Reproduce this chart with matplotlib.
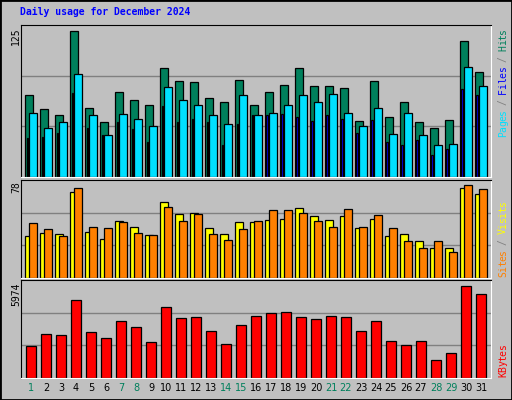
import matplotlib.pyplot as plt
from matplotlib.patches import Rectangle

days = list(range(1, 32))
weekend = [1, 7, 8, 14, 15, 21, 22, 28, 29]

hits = [70, 58, 53, 125, 59, 47, 73, 66, 62, 93, 82, 81, 68, 64, 83, 62,
        73, 79, 93, 78, 78, 76, 48, 82, 51, 64, 47, 42, 49, 116, 90]
pages = [55, 42, 47, 88, 53, 36, 54, 50, 44, 77, 66, 62, 53, 45, 70, 53,
         55, 62, 70, 64, 71, 55, 44, 59, 37, 55, 36, 27, 28, 94, 78]
files = [33, 34, 38, 72, 42, 36, 47, 41, 30, 61, 47, 50, 47, 27, 45, 53,
         53, 54, 51, 48, 53, 50, 38, 49, 30, 27, 32, 19, 24, 75, 70]
visits = [35, 38, 37, 72, 39, 33, 48, 43, 36, 64, 54, 55, 42, 37, 47, 47,
          49, 50, 59, 52, 49, 52, 42, 50, 35, 37, 31, 25, 25, 76, 71]
sites = [46, 41, 35, 76, 43, 42, 47, 38, 36, 60, 48, 54, 37, 32, 41, 48,
         57, 57, 55, 48, 43, 58, 43, 53, 42, 31, 25, 31, 22, 78, 75]
kbytes = [2101, 2888, 2823, 5055, 3020, 2626, 3742, 3348, 2363, 4661, 3939,
          4004, 3085, 2232, 3479, 4070, 4267, 4332, 4004, 3873, 4070, 4004,
          3085, 3742, 2429, 2166, 2429, 1182, 1641, 5974, 5448]

W, H = 512, 400
bg = "#C0C0C0"
fig = plt.figure(figsize=(W / 100, H / 100), dpi=100, facecolor=bg)
fig.patches.append(Rectangle((0, 0), 1, 1, transform=fig.transFigure,
                             fill=False, edgecolor="black", linewidth=2))


def px_axes(left, top, right, bottom):
    return fig.add_axes([left / W, 1 - bottom / H, (right - left) / W, (bottom - top) / H])


def style(ax, ymax):
    ax.set_facecolor(bg)
    ax.set_xlim(1 - 0.67, 31 + 0.67)
    ax.set_ylim(0, ymax)
    for f in (1 / 3, 2 / 3):
        ax.axhline(ymax * f, color="#808080", linewidth=1, zorder=0)
    ax.set_xticks([])
    ax.set_yticks([])
    for s in ("left", "top"):
        ax.spines[s].set_color("black")
    for s in ("right", "bottom"):
        ax.spines[s].set_color("white")


mono = "DejaVu Sans Mono"
bk = dict(edgecolor="black", linewidth=0.9, align="edge")

# hits / pages / files
ax1 = px_axes(21, 25, 491, 177)
style(ax1, 125 * 458 / 440)
ax1.bar([d - 0.38 for d in days], hits, 0.5, color="#00805C", **bk)
ax1.bar([d - 0.3 for d in days], files, 0.13, color="#0000FF", **bk)
ax1.bar([d - 0.12 for d in days], pages, 0.5, color="#00E0FF", **bk)

# visits / sites
ax2 = px_axes(21, 180, 491, 278)
style(ax2, 78 * 292 / 276)
ax2.bar([d - 0.38 for d in days], visits, 0.5, color="#FFFF00", **bk)
ax2.bar([d - 0.12 for d in days], sites, 0.5, color="#FF8000", **bk)

# kbytes
ax3 = px_axes(21, 280, 491, 378)
style(ax3, 5974 * 292 / 273)
ax3.bar([d - 0.33 for d in days], kbytes, 0.66, color="#FF0000", **bk)

fig.text(20 / W, 1 - 15 / H, "Daily usage for December 2024", color="#0000FF",
         fontsize=7, fontweight="bold", family=mono, va="baseline")

for lab, top in (("125", 27), ("78", 181), ("5974", 282)):
    fig.text(16 / W, 1 - top / H, lab, rotation=90, fontsize=7, family=mono,
             ha="center", va="top")

for d in days:
    x = ax3.transData.transform((d, 0))[0] / W
    fig.text(x, 1 - 388 / H, str(d), fontsize=7, ha="center", va="center",
             color="#00805C" if d in weekend else "black")


def side_label(parts, bottom_px, pitch=5.4):
    y = bottom_px
    for txt, col in parts:
        for ch in txt:
            if ch != " ":
                fig.text(503 / W, 1 - (y - pitch / 2) / H, ch, rotation=90,
                         color=col, fontsize=7, family=mono, ha="center",
                         va="center")
            y -= pitch


side_label([("Pages", "#00E0FF"), (" / ", "#808080"), ("Files", "#0000FF"),
            (" / ", "#808080"), ("Hits", "#00805C")], 137)
side_label([("Sites", "#FF8000"), (" / ", "#808080"), ("Visits", "#FFFF00")], 277)
side_label([("KBytes", "#FF0000")], 377)

fig.savefig("out.png", dpi=100, facecolor=bg)
